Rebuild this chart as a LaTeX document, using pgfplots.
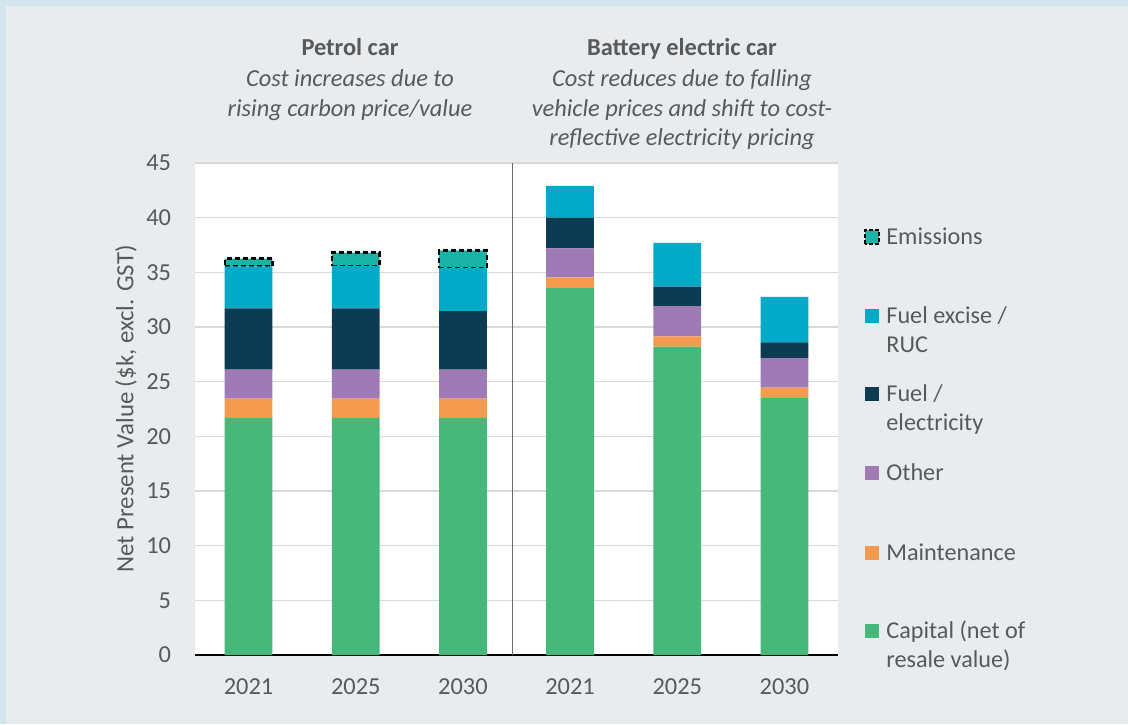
\documentclass[border=0pt]{standalone}
\usepackage{fontspec}
\setmainfont{Carlito}
\usepackage{pgfplots}
\pgfplotsset{compat=1.18}
\definecolor{bordercol}{HTML}{D3E6F0}
\definecolor{bgcol}{HTML}{E8ECEF}
\definecolor{txt}{HTML}{595959}
\definecolor{capital}{HTML}{45B87A}
\definecolor{maint}{HTML}{F59B4F}
\definecolor{other}{HTML}{9E7BB5}
\definecolor{fuel}{HTML}{0D3B52}
\definecolor{excise}{HTML}{00AAC8}
\definecolor{emis}{HTML}{1BB3A6}
\definecolor{gridc}{HTML}{D9D9D9}
\begin{document}
\begin{tikzpicture}
\fill[bordercol] (0,0) rectangle (564pt,362pt);
\fill[bgcol] (3pt,0) rectangle (564pt,359pt);
\begin{axis}[
  at={(97.5pt,34.5pt)}, anchor=south west,
  scale only axis, width=321.5pt, height=246pt,
  axis background/.style={fill=white},
  ybar stacked, bar width=23.85pt,
  xmin=-0.5, xmax=5.5, ymin=0, ymax=45,
  enlarge x limits=false,
  xtick={0,1,2,3,4,5},
  xticklabels={2021,2025,2030,2021,2025,2030},
  ytick={0,5,...,45},
  extra x ticks={2.465}, extra x tick labels={},
  extra x tick style={grid=major, major grid style={draw=gray!85!black, line width=0.6pt}},
  ymajorgrids, major grid style={draw=gridc, line width=0.6pt},
  major tick length=0pt,
  axis x line*=bottom, axis y line*=left,
  x axis line style={draw=black, line width=0.9pt, -},
  y axis line style={draw=none},
  /pgf/number format/assume math mode=true,
  tick label style={text=txt, font=\fontsize{12.2}{14}\selectfont},
  yticklabel style={anchor=east, inner sep=0pt, xshift=-11.75pt},
  xticklabel style={anchor=north, inner sep=0pt, yshift=-11.5pt},
  ylabel={Net Present Value (\$k, excl. GST)},
  ylabel style={at={(axis description cs:-0.1073,0.5)}, anchor=center, rotate=0, text=txt, font=\fontsize{12.4}{14}\selectfont, inner sep=0pt},
]
% Capital (net of resale value)
\addplot[fill=capital, draw=none] coordinates {(0,21.7) (1,21.7) (2,21.7) (3,33.55) (4,28.2) (5,23.5)};
% Maintenance
\addplot[fill=maint, draw=none] coordinates {(0,1.75) (1,1.75) (2,1.75) (3,1.0) (4,0.95) (5,0.95)};
% Other
\addplot[fill=other, draw=none] coordinates {(0,2.65) (1,2.65) (2,2.65) (3,2.65) (4,2.75) (5,2.7)};
% Fuel / electricity
\addplot[fill=fuel, draw=none] coordinates {(0,5.6) (1,5.6) (2,5.35) (3,2.8) (4,1.8) (5,1.45)};
% Fuel excise / RUC
\addplot[fill=excise, draw=none] coordinates {(0,3.85) (1,3.9) (2,3.95) (3,2.9) (4,4.0) (5,4.15)};
% Emissions
\addplot[fill=emis, draw=black, line width=1.2pt, dash pattern=on 2.5pt off 1.5pt] coordinates {(0,0.7) (1,1.2) (2,1.6)};
\end{axis}
% titles
\begin{scope}[every node/.style={text=txt, anchor=base, inner sep=0pt}]
\node[font=\fontsize{12.2}{14}\selectfont\bfseries] at (175pt,334pt) {Petrol car};
\node[font=\fontsize{12.2}{14}\selectfont\itshape] at (175pt,318.75pt) {Cost increases due to};
\node[font=\fontsize{12.2}{14}\selectfont\itshape] at (175pt,303.75pt) {rising carbon price/value};
\node[font=\fontsize{12.2}{14}\selectfont\bfseries] at (341pt,334pt) {Battery electric car};
\node[font=\fontsize{12.2}{14}\selectfont\itshape] at (341pt,318.75pt) {Cost reduces due to falling};
\node[font=\fontsize{12.2}{14}\selectfont\itshape] at (341pt,303.75pt) {vehicle prices and shift to cost-};
\node[font=\fontsize{12.2}{14}\selectfont\itshape] at (341pt,289pt) {reflective electricity pricing};
\end{scope}
% legend
\begin{scope}[every node/.style={text=txt, anchor=base west, inner sep=0pt, font=\fontsize{12.1}{14}\selectfont}]
\fill[emis] (432.5pt,240pt) rectangle (439.5pt,247pt);
\draw[black, line width=1.1pt, dash pattern=on 2pt off 1pt] (432.5pt,240pt) rectangle (439.5pt,247pt);
\node at (443pt,240pt) {Emissions};
\fill[excise] (432.5pt,200.5pt) rectangle (439.5pt,207.5pt);
\node at (443pt,200.5pt) {Fuel excise /};
\node at (443pt,185.75pt) {RUC};
\fill[fuel] (432.5pt,161.5pt) rectangle (439.5pt,168.5pt);
\node at (443pt,161.5pt) {Fuel /};
\node at (443pt,146.75pt) {electricity};
\fill[other] (432.5pt,122pt) rectangle (439.5pt,129pt);
\node at (443pt,122pt) {Other};
\fill[maint] (432.5pt,82pt) rectangle (439.5pt,89pt);
\node at (443pt,82pt) {Maintenance};
\fill[capital] (432.5pt,43pt) rectangle (439.5pt,50pt);
\node at (443pt,43pt) {Capital (net of};
\node at (443pt,28.25pt) {resale value)};
\end{scope}
\pgfresetboundingbox
\path[use as bounding box] (0,0) rectangle (564pt,362pt);
\end{tikzpicture}
\end{document}
